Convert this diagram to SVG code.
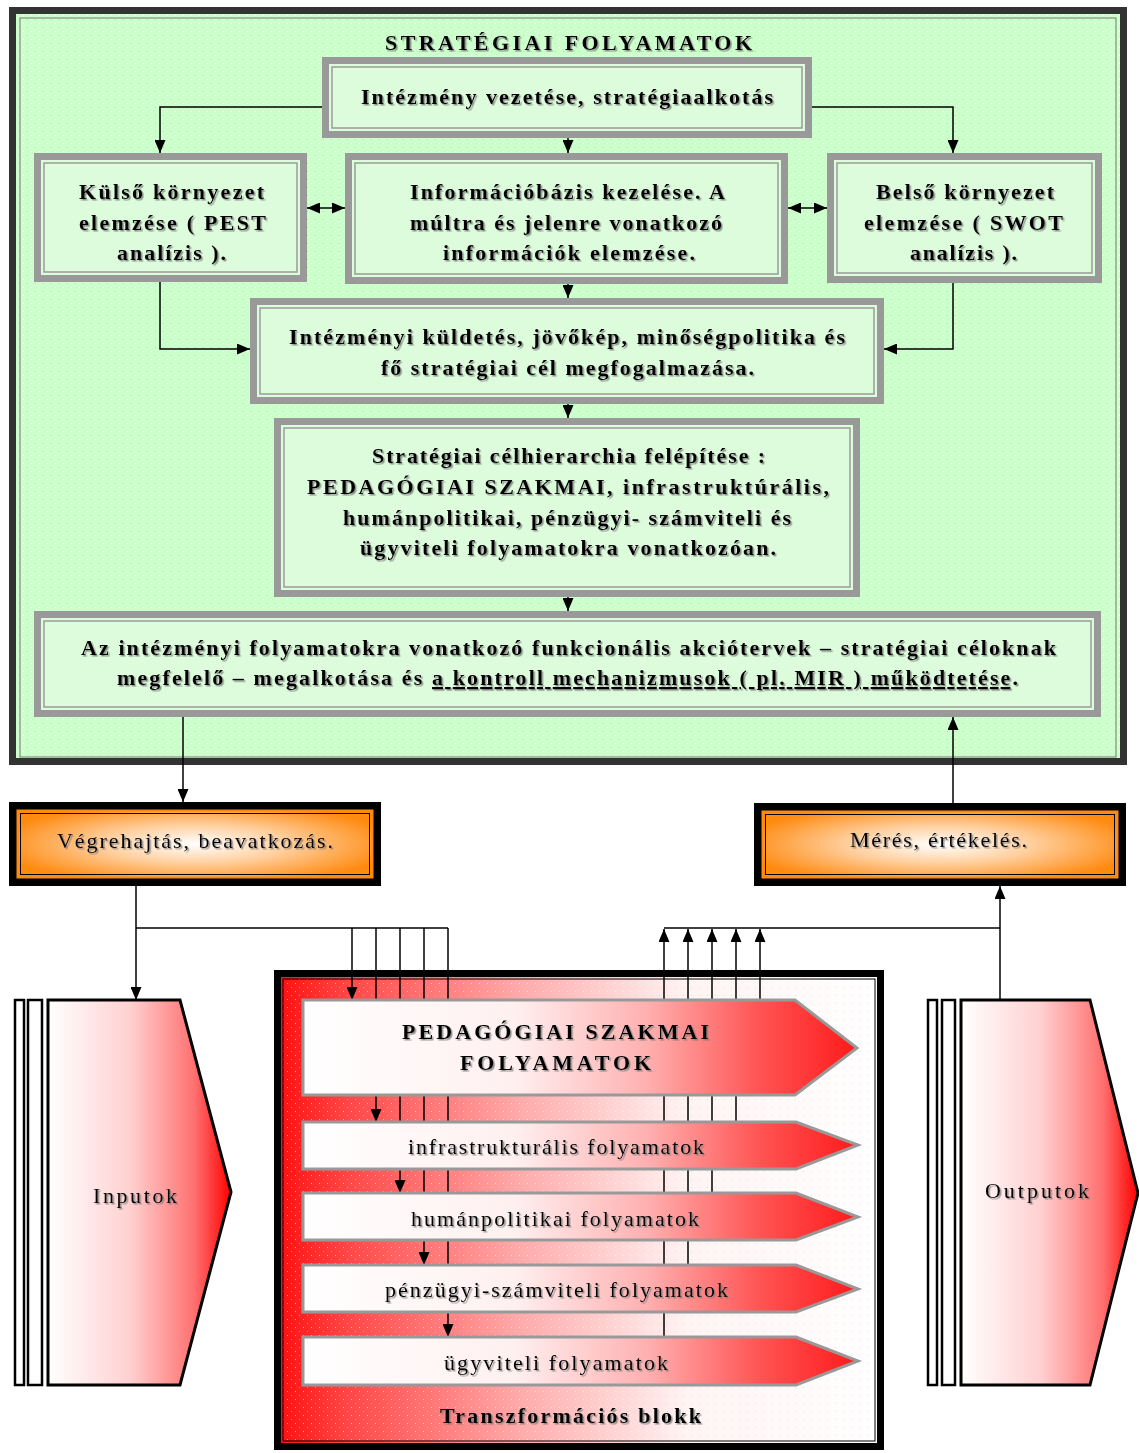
<svg xmlns="http://www.w3.org/2000/svg" width="1139" height="1453" viewBox="0 0 1139 1453">
<style>
.gb{fill:#dcfcdc;stroke:#999;stroke-width:7}
.gi{fill:none;stroke:#9a9a9a;stroke-width:1.5}
.b{font-family:"Liberation Serif","Times New Roman",serif;font-weight:bold;font-size:22px;fill:#000;filter:url(#sh)}
.r{font-family:"Liberation Serif","Times New Roman",serif;font-size:22px;fill:#000;filter:url(#sh)}
.ln{fill:none;stroke:#000;stroke-width:1.5}
.ar{marker-end:url(#ah)}
.proc{fill:url(#pg);stroke:#999;stroke-width:3}
.thin{fill:#fff;stroke:#000;stroke-width:2.5}
.io{stroke:#000;stroke-width:3}
</style>
<defs>
<filter id="sh" x="-5%" y="-20%" width="110%" height="140%">
<feDropShadow dx="1.5" dy="1.5" stdDeviation="0.6" flood-color="#777" flood-opacity="0.8"/>
</filter>
<marker id="ah" markerUnits="userSpaceOnUse" markerWidth="13" markerHeight="11" refX="13" refY="5.5" orient="auto-start-reverse">
<path d="M0,0 L13,5.5 L0,11 z" fill="#000"/>
</marker>
<pattern id="dots" width="8" height="8" patternUnits="userSpaceOnUse">
<rect x="3" y="3" width="1" height="1" fill="#e8b8e8"/>
<rect x="7" y="7" width="1" height="1" fill="#ffffff"/>
</pattern>
<radialGradient id="og" cx="50%" cy="50%" r="55%">
<stop offset="0" stop-color="#ffffff"/>
<stop offset="0.45" stop-color="#ffd0a0"/>
<stop offset="1" stop-color="#ff8a10"/>
</radialGradient>
<linearGradient id="bg" x1="0" y1="0" x2="1" y2="0">
<stop offset="0" stop-color="#ff1010"/>
<stop offset="0.12" stop-color="#ff4848"/>
<stop offset="0.4" stop-color="#ffaaaa"/>
<stop offset="0.68" stop-color="#fff4f4"/>
<stop offset="1" stop-color="#ffffff"/>
</linearGradient>
<linearGradient id="pg" x1="0" y1="0" x2="1" y2="0">
<stop offset="0" stop-color="#ffffff"/>
<stop offset="0.38" stop-color="#fff0f0"/>
<stop offset="0.62" stop-color="#ffb0b0"/>
<stop offset="0.82" stop-color="#ff5555"/>
<stop offset="1" stop-color="#ff1a1a"/>
</linearGradient>
<linearGradient id="ig" x1="0" y1="0" x2="1" y2="0">
<stop offset="0" stop-color="#ffffff"/>
<stop offset="0.45" stop-color="#ffd0d0"/>
<stop offset="0.8" stop-color="#ff7070"/>
<stop offset="1" stop-color="#ff0000"/>
</linearGradient>
</defs>

<g id="strategic-frame">
<rect x="12.5" y="10.5" width="1111" height="751" fill="#ccffcc" stroke="#333" stroke-width="7"/>
<rect x="16" y="14" width="1104" height="744" fill="url(#dots)"/>
<rect x="20" y="18" width="1096" height="739" fill="none" stroke="#777" stroke-width="1"/>
<text class="b" x="385" y="50" font-size="23" textLength="367" lengthAdjust="spacing">STRATÉGIAI FOLYAMATOK</text>
</g>

<g id="n-vezetes">
<rect class="gb" x="325.5" y="60.5" width="483" height="74"/>
<rect class="gi" x="332" y="67" width="470" height="61"/>
<text class="b" x="361" y="104" textLength="412" lengthAdjust="spacing">Intézmény vezetése, stratégiaalkotás</text>
</g>

<g id="n-kulso">
<rect class="gb" x="37.5" y="156.5" width="266" height="122"/>
<rect class="gi" x="44" y="163" width="253" height="109"/>
<text class="b" x="79" y="199" textLength="185" lengthAdjust="spacing">Külső környezet</text>
<text class="b" x="79" y="230" textLength="187" lengthAdjust="spacing">elemzése ( PEST</text>
<text class="b" x="117" y="260" textLength="109" lengthAdjust="spacing">analízis ).</text>
</g>

<g id="n-info">
<rect class="gb" x="348.5" y="156.5" width="436" height="124"/>
<rect class="gi" x="355" y="163" width="423" height="111"/>
<text class="b" x="410" y="199" textLength="315" lengthAdjust="spacing">Információbázis kezelése. A</text>
<text class="b" x="410" y="230" textLength="312" lengthAdjust="spacing">múltra és jelenre vonatkozó</text>
<text class="b" x="443" y="260" textLength="252" lengthAdjust="spacing">információk elemzése.</text>
</g>

<g id="n-belso">
<rect class="gb" x="830.5" y="156.5" width="268" height="123"/>
<rect class="gi" x="837" y="163" width="255" height="110"/>
<text class="b" x="876" y="199" textLength="178" lengthAdjust="spacing">Belső környezet</text>
<text class="b" x="864" y="230" textLength="199" lengthAdjust="spacing">elemzése ( SWOT</text>
<text class="b" x="910" y="260" textLength="107" lengthAdjust="spacing">analízis ).</text>
</g>

<g id="n-kuldetes">
<rect class="gb" x="253.5" y="301.5" width="627" height="99"/>
<rect class="gi" x="260" y="308" width="614" height="86"/>
<text class="b" x="289" y="344" textLength="556" lengthAdjust="spacing">Intézményi küldetés, jövőkép, minőségpolitika és</text>
<text class="b" x="381" y="375" textLength="373" lengthAdjust="spacing">fő stratégiai cél megfogalmazása.</text>
</g>

<g id="n-celhierarchia">
<rect class="gb" x="277.5" y="421.5" width="579" height="172"/>
<rect class="gi" x="284" y="428" width="566" height="159"/>
<text class="b" x="372" y="463" textLength="393" lengthAdjust="spacing">Stratégiai célhierarchia felépítése :</text>
<text class="b" x="307" y="494" textLength="522" lengthAdjust="spacing">PEDAGÓGIAI SZAKMAI, infrastruktúrális,</text>
<text class="b" x="343" y="525" textLength="448" lengthAdjust="spacing">humánpolitikai, pénzügyi- számviteli és</text>
<text class="b" x="360" y="555" textLength="416" lengthAdjust="spacing">ügyviteli folyamatokra vonatkozóan.</text>
</g>

<g id="n-akciotervek">
<rect class="gb" x="37.5" y="614.5" width="1060" height="99"/>
<rect class="gi" x="44" y="621" width="1047" height="86"/>
<text class="b" x="81" y="655" textLength="975" lengthAdjust="spacing">Az intézményi folyamatokra vonatkozó funkcionális akciótervek – stratégiai céloknak</text>
<text class="b" x="117" y="685" textLength="901" lengthAdjust="spacing">megfelelő – megalkotása és <tspan text-decoration="underline">a kontroll mechanizmusok ( pl. MIR ) működtetése</tspan>.</text>
</g>

<g id="n-vegrehajtas">
<rect x="13" y="806" width="364" height="76" fill="url(#og)" stroke="#000" stroke-width="8"/>
<rect x="17.5" y="810.5" width="355" height="67" fill="none" stroke="#ff8a10" stroke-width="2"/>
<rect x="20.5" y="813.5" width="349" height="61" fill="none" stroke="#000" stroke-width="1"/>
<text class="r" x="57" y="848" textLength="276" lengthAdjust="spacing">Végrehajtás, beavatkozás.</text>
</g>

<g id="n-meres">
<rect x="758" y="807" width="364" height="75" fill="url(#og)" stroke="#000" stroke-width="8"/>
<rect x="762.5" y="811.5" width="355" height="66" fill="none" stroke="#ff8a10" stroke-width="2"/>
<rect x="765.5" y="814.5" width="349" height="60" fill="none" stroke="#000" stroke-width="1"/>
<text class="r" x="850" y="847" textLength="177" lengthAdjust="spacing">Mérés, értékelés.</text>
</g>

<g id="n-transzformacios-blokk">
<rect x="277.5" y="973.5" width="603" height="473" fill="url(#bg)" stroke="#000" stroke-width="7"/>
<rect x="281" y="977" width="596" height="466" fill="url(#dots)" opacity="0.6"/>
<rect x="283" y="979" width="592" height="462" fill="none" stroke="#000" stroke-width="1"/>
</g>

<g id="connectors">
<polyline class="ln ar" points="322,107 160,107 160,153"/>
<polyline class="ln ar" points="812,107 953,107 953,153"/>
<line class="ln ar" x1="568" y1="138" x2="568" y2="153"/>
<line class="ln ar" x1="307" y1="208" x2="345" y2="208" marker-start="url(#ah)"/>
<line class="ln ar" x1="788" y1="208" x2="827" y2="208" marker-start="url(#ah)"/>
<line class="ln ar" x1="568" y1="284" x2="568" y2="298"/>
<polyline class="ln ar" points="160,282 160,349 250,349"/>
<polyline class="ln ar" points="953,283 953,349 884,349"/>
<line class="ln ar" x1="568" y1="404" x2="568" y2="418"/>
<line class="ln ar" x1="568" y1="597" x2="568" y2="611"/>
<line class="ln ar" x1="183" y1="717" x2="183" y2="802"/>
<line class="ln ar" x1="953" y1="803" x2="953" y2="717"/>
<line class="ln ar" x1="136" y1="886" x2="136" y2="1000"/>
<line class="ln" x1="136" y1="928" x2="448" y2="928"/>
<line class="ln ar" x1="352" y1="928" x2="352" y2="1000"/>
<line class="ln ar" x1="376" y1="928" x2="376" y2="1122"/>
<line class="ln ar" x1="400" y1="928" x2="400" y2="1193"/>
<line class="ln ar" x1="424" y1="928" x2="424" y2="1265"/>
<line class="ln ar" x1="448" y1="928" x2="448" y2="1337"/>
<line class="ln ar" x1="1000" y1="1000" x2="1000" y2="886"/>
<line class="ln" x1="664" y1="928" x2="1000" y2="928"/>
<line class="ln ar" x1="664" y1="1337" x2="664" y2="929"/>
<line class="ln ar" x1="688" y1="1265" x2="688" y2="929"/>
<line class="ln ar" x1="712" y1="1193" x2="712" y2="929"/>
<line class="ln ar" x1="736" y1="1122" x2="736" y2="929"/>
<line class="ln ar" x1="760" y1="1000" x2="760" y2="929"/>
</g>

<g id="n-pedagogiai">
<polygon class="proc" points="303,1000 795,1000 857,1048 795,1095 303,1095"/>
<text class="b" x="402" y="1039" font-size="24" textLength="307" lengthAdjust="spacing">PEDAGÓGIAI SZAKMAI</text>
<text class="b" x="460" y="1070" font-size="24" textLength="191" lengthAdjust="spacing">FOLYAMATOK</text>
</g>
<g id="n-infrastrukturalis">
<polygon class="proc" points="303,1122 796,1122 858,1145 796,1169 303,1169"/>
<text class="r" x="408" y="1154" textLength="296" lengthAdjust="spacing">infrastrukturális folyamatok</text>
</g>
<g id="n-humanpolitikai">
<polygon class="proc" points="303,1193 796,1193 858,1217 796,1240 303,1240"/>
<text class="r" x="411" y="1226" textLength="288" lengthAdjust="spacing">humánpolitikai folyamatok</text>
</g>
<g id="n-penzugyi">
<polygon class="proc" points="303,1265 796,1265 858,1289 796,1312 303,1312"/>
<text class="r" x="385" y="1297" textLength="343" lengthAdjust="spacing">pénzügyi-számviteli folyamatok</text>
</g>
<g id="n-ugyviteli">
<polygon class="proc" points="303,1337 796,1337 858,1361 796,1385 303,1385"/>
<text class="r" x="444" y="1370" textLength="224" lengthAdjust="spacing">ügyviteli folyamatok</text>
</g>
<g id="n-blokk-label">
<text class="b" x="440" y="1423" font-size="23" textLength="261" lengthAdjust="spacing">Transzformációs blokk</text>
</g>

<g id="n-inputok">
<rect class="thin" x="15" y="1000" width="9" height="385"/>
<rect class="thin" x="28" y="1000" width="14" height="385"/>
<polygon class="io" fill="url(#ig)" points="48,1000 180,1000 231,1192 180,1385 48,1385"/>
<text class="r" x="93" y="1203" textLength="84" lengthAdjust="spacing">Inputok</text>
</g>

<g id="n-outputok">
<rect class="thin" x="928" y="1000" width="9" height="385"/>
<rect class="thin" x="942" y="1000" width="13" height="385"/>
<polygon class="io" fill="url(#ig)" points="961,1000 1090,1000 1138,1193 1090,1385 961,1385"/>
<text class="r" x="985" y="1198" textLength="104" lengthAdjust="spacing">Outputok</text>
</g>
</svg>
